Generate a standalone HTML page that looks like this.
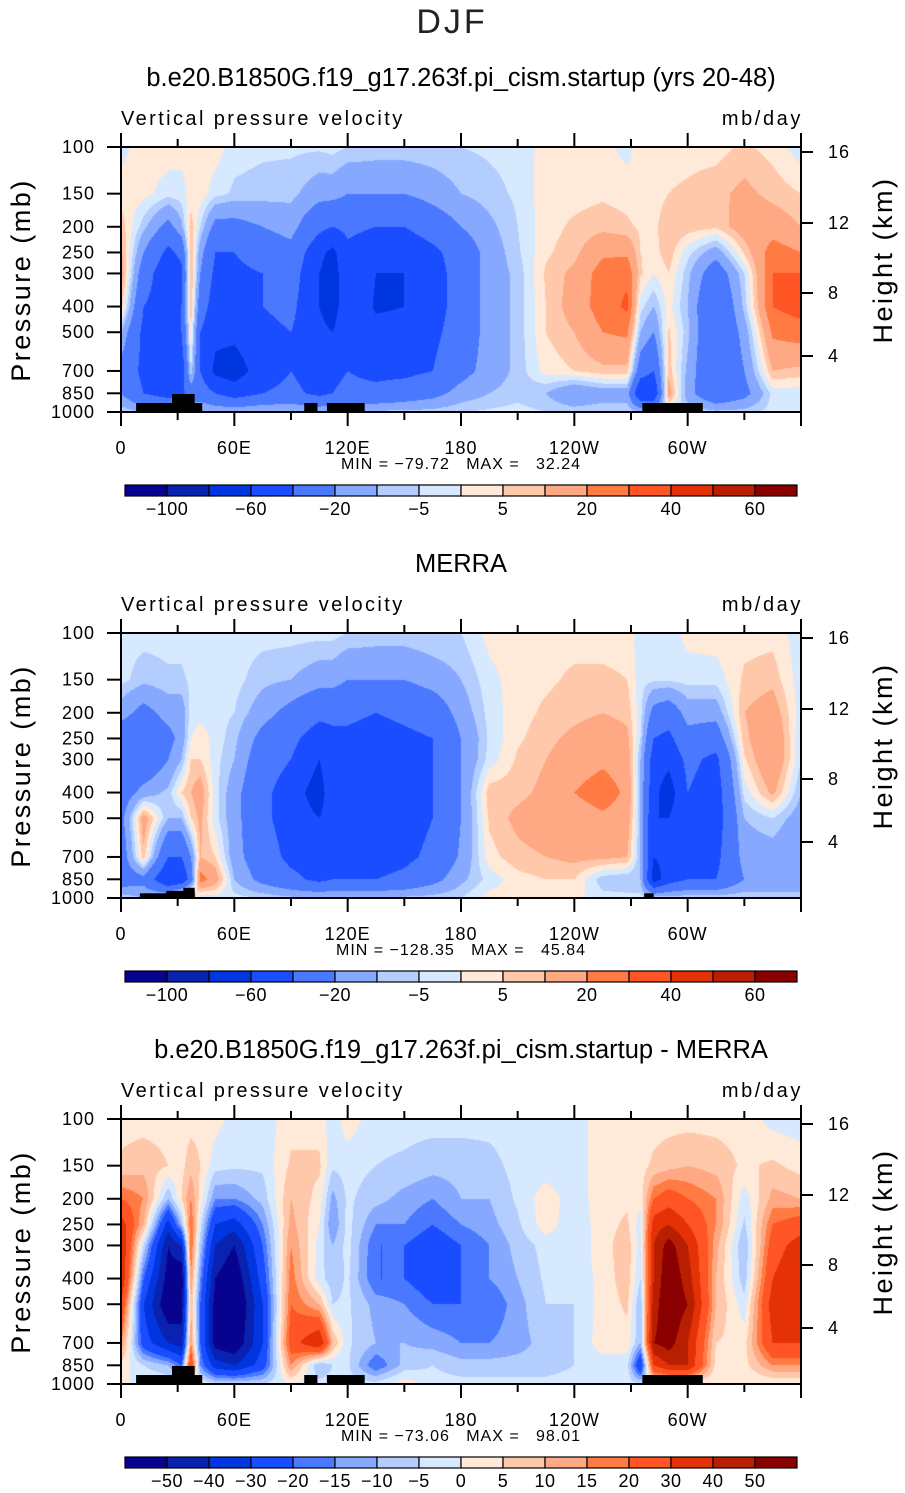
<!DOCTYPE html>
<html><head><meta charset="utf-8">
<style>
html,body{margin:0;padding:0;background:#fff;}
#wrap{position:relative;width:905px;height:1493px;overflow:hidden;font-family:"Liberation Sans",sans-serif;}
canvas{position:absolute;}
svg{position:absolute;left:0;top:0;}
</style></head>
<body>
<div id="wrap">
<canvas id="c0" width="680" height="265" style="left:121px;top:147px"></canvas>
<canvas id="c1" width="680" height="265" style="left:121px;top:633px"></canvas>
<canvas id="c2" width="680" height="265" style="left:121px;top:1119px"></canvas>
<svg id="svg" width="905" height="1493" xmlns="http://www.w3.org/2000/svg"></svg>
</div>
<script>
// ---- data ----
const LONS=[0,12,25,32,37,42,50,60,75,90,105,112,120,135,150,165,180,195,210,225,240,255,268,275,282,290,300,315,330,345,360];
const PLEVS=[100,150,200,250,300,400,500,700,850,1000];
const MODEL=[
[-2,3,8,12,15,8,-10,-25,-20,-5],
[3,2,-8,-20,-30,-40,-45,-45,-40,-10],
[3,-3,-25,-45,-55,-50,-45,-55,-50,-10],
[2,-2,-12,-35,-45,-40,-40,-55,-45,-10],
[2,2,8,10,12,10,5,-5,-30,-10],
[3,3,-5,-15,-20,-30,-40,-40,-30,-8],
[3,-3,-25,-40,-45,-50,-55,-65,-40,-10],
[-3,-6,-25,-40,-45,-50,-55,-70,-50,-10],
[-4,-7,-20,-30,-40,-40,-45,-50,-40,-8],
[-4,-8,-15,-25,-30,-35,-40,-40,-35,-8],
[-4,-15,-35,-55,-60,-60,-55,-50,-45,-10],
[-3,-15,-40,-65,-70,-70,-60,-45,-40,-8],
[-5,-20,-35,-45,-45,-45,-45,-40,-35,-8],
[-6,-20,-40,-55,-60,-62,-55,-45,-35,-8],
[-6,-20,-40,-55,-60,-60,-55,-45,-30,-8],
[-6,-15,-30,-45,-50,-50,-45,-40,-25,-7],
[-5,-10,-20,-30,-30,-30,-30,-25,-15,-5],
[-4,-7,-12,-15,-15,-15,-15,-15,-10,-4],
[-3,-4,-5,-6,-8,-8,-8,-8,-7,-3],
[2,3,3,4,6,5,5,2,-10,-5],
[2,3,6,8,12,14,10,5,-20,-6],
[2,4,8,18,25,25,20,8,-15,-5],
[-2,3,6,18,28,32,22,8,-15,-5],
[3,2,4,5,6,-3,-10,-30,-60,-10],
[3,2,3,3,0,-10,-20,-40,-60,-10],
[3,5,10,8,5,2,6,8,15,-5],
[3,6,8,-3,-8,-10,-8,-12,-15,-5],
[3,8,6,-15,-30,-40,-40,-40,-35,-8],
[6,12,15,6,-5,-8,-15,-20,-25,-7],
[3,8,15,25,30,30,22,10,-3,-3],
[-3,5,10,20,30,35,25,8,-3,-3]];
const MERRA=[
[-3,-3,-15,-30,-35,-30,-25,-30,-30,-5],
[-3,-8,-25,-35,-35,-15,15,8,-25,-10],
[-3,-6,-15,-25,-20,-8,-10,-40,-60,-5],
[-3,-6,-15,-15,-10,5,-10,-40,-60,20],
[-3,-4,-3,0,5,10,5,-20,-30,20],
[-3,-3,-2,3,5,15,12,10,25,-5],
[-3,-3,-3,-2,-3,-3,-3,5,15,-3],
[-3,-3,-5,-8,-10,-15,-15,-15,-10,-3],
[-3,-8,-15,-25,-30,-35,-35,-30,-25,-5],
[-3,-10,-25,-35,-40,-50,-50,-45,-35,-8],
[-3,-15,-35,-50,-60,-70,-60,-50,-45,-8],
[-3,-15,-35,-45,-45,-45,-50,-45,-40,-8],
[-5,-20,-35,-45,-45,-45,-60,-50,-40,-8],
[-6,-20,-40,-50,-55,-60,-60,-50,-40,-8],
[-6,-20,-35,-45,-45,-50,-50,-45,-35,-8],
[-5,-15,-30,-40,-40,-40,-40,-35,-25,-7],
[-5,-10,-15,-20,-20,-20,-20,-18,-12,-5],
[2,-2,-3,-4,-3,8,6,3,-3,2],
[3,3,3,4,6,8,12,8,3,2],
[3,4,6,8,10,12,15,10,5,2],
[3,6,8,12,15,20,15,12,5,2],
[3,6,10,15,18,25,18,12,-8,-3],
[3,5,8,12,15,18,15,10,-10,-3],
[-3,-3,-3,-5,-10,-10,-10,-10,-10,-3],
[-3,-4,-25,-40,-50,-55,-60,-60,-70,-5],
[-3,-4,-30,-45,-55,-70,-60,-55,-50,-5],
[2,-3,-15,-25,-35,-40,-45,-40,-40,-5],
[3,-3,-15,-30,-45,-50,-50,-45,-40,-5],
[3,6,10,8,4,-3,-10,-15,-20,-5],
[3,8,15,20,20,12,-5,-15,-20,-5],
[-3,-3,-3,-5,-5,-10,-15,-20,-20,-5]];
const DIFF=[
[3,6,20,35,40,40,30,15,3,0],
[3,8,15,10,-5,-20,-30,-25,-5,0],
[3,5,-10,-35,-50,-55,-60,-40,-10,0],
[3,3,5,-10,-40,-60,-55,-45,-20,0],
[3,8,15,20,20,15,10,15,30,0],
[3,5,3,-3,-8,-15,-20,-20,-15,0],
[2,-3,-15,-30,-40,-50,-55,-55,-35,-5],
[-2,-4,-15,-35,-50,-60,-65,-60,-40,-5],
[-3,-4,-8,-15,-20,-25,-30,-30,-25,-5],
[3,6,10,12,15,18,20,25,15,0],
[3,6,3,0,-2,-3,10,40,-10,-3],
[-3,-4,-12,-15,-10,-8,-5,10,-5,-3],
[3,-3,-4,-3,-3,-4,-4,-4,-4,-3],
[-3,-5,-8,-15,-20,-20,-12,-10,-20,-3],
[-3,-6,-12,-15,-20,-20,-15,-10,-8,3],
[-3,-8,-15,-20,-25,-25,-20,-12,-5,-3],
[-3,-8,-10,-15,-20,-20,-20,-15,-8,-3],
[-3,-7,-10,-12,-15,-15,-20,-15,-8,-3],
[-2,-3,-4,-6,-8,-10,-12,-12,-8,-3],
[-2,-3,3,3,-3,-4,-5,-8,-8,-3],
[-2,-3,-3,-4,-4,-4,-5,-5,-5,-2],
[2,3,3,3,3,2,2,3,-3,-2],
[2,3,4,6,8,8,6,3,-3,-2],
[3,3,2,-3,-3,-5,-10,-10,-30,-5],
[3,6,20,35,40,40,45,50,30,0],
[3,8,25,40,55,60,60,55,40,0],
[3,10,20,30,40,45,50,40,40,0],
[3,8,15,15,12,10,10,5,3,0],
[3,4,-3,-6,-10,-8,-3,3,3,0],
[-2,6,12,20,25,30,35,30,15,0],
[-3,3,10,25,35,40,40,30,15,0]];
const LEVELS_A=[-100,-80,-60,-40,-20,-10,-5,0,5,10,20,30,40,50,60];
const LEVELS_B=[-50,-40,-30,-20,-15,-10,-5,0,5,10,15,20,30,40,50];
const CBAR_LABELS_A=["","−100","","−60","","−20","","−5","","5","","20","","40","","60",""];
const CBAR_LABELS_B=["","−50","−40","−30","−20","−15","−10","−5","0","5","10","15","20","30","40","50",""];
const COLORS=["#08038f","#0a22b0","#0036e0","#1a4dff","#4a79ff","#86a9ff","#b4cdff","#d7e9fe","#ffe9d8","#ffc8ab","#ffa884","#ff7b43","#ff5424","#e43106","#b81e00","#8a0000"];
const P_TICKS=[100,150,200,250,300,400,500,700,850,1000];
const LON_LABELS=[[0,"0"],[60,"60E"],[120,"120E"],[180,"180"],[240,"120W"],[300,"60W"]];
const H_TICKS=[[16,5],[12,76],[8,146],[4,209]];
const TOPO_FULL=[[8,43,925],[27,39,855],[97,104,925],[109,129,925],[276,308,925]];
const TOPO_MERRA=[[10,39,960],[24,39,940],[33,39,915],[277,282,960]];
const STATS=[["−79.72","32.24"],["−128.35","45.84"],["−73.06","98.01"]];
const TITLES=["b.e20.B1850G.f19_g17.263f.pi_cism.startup (yrs 20-48)","MERRA","b.e20.B1850G.f19_g17.263f.pi_cism.startup - MERRA"];

// ---- geometry ----
const X0=121,W=680,H=265,TOPS=[147,633,1119];
const xOf=lon=>X0+lon/360*W;
const yOf=(p,top)=>top+(Math.log10(p)-2)*H;

function sample(grid,lon,p){
  let i=0;while(i<LONS.length-2&&lon>LONS[i+1])i++;
  const tx=(lon-LONS[i])/(LONS[i+1]-LONS[i]);
  const lp=Math.log10(p);
  let j=0;while(j<PLEVS.length-2&&lp>Math.log10(PLEVS[j+1]))j++;
  const a=Math.log10(PLEVS[j]),b=Math.log10(PLEVS[j+1]);
  const ty=Math.min(1,Math.max(0,(lp-a)/(b-a)));
  const v00=grid[i][j],v10=grid[i+1][j],v01=grid[i][j+1],v11=grid[i+1][j+1];
  return (v00*(1-tx)+v10*tx)*(1-ty)+(v01*(1-tx)+v11*tx)*ty;
}
function hex(c){return [parseInt(c.slice(1,3),16),parseInt(c.slice(3,5),16),parseInt(c.slice(5,7),16)];}
const RGB=COLORS.map(hex);
function drawField(id,grid,levels){
  const cv=document.getElementById(id),ctx=cv.getContext('2d');
  const img=ctx.createImageData(W,H);
  for(let py=0;py<H;py++){
    const p=Math.pow(10,2+(py+0.5)/H);
    for(let px=0;px<W;px++){
      const v=sample(grid,(px+0.5)/W*360,p);
      let k=0;while(k<levels.length&&v>=levels[k])k++;
      const c=RGB[k],o=(py*W+px)*4;
      img.data[o]=c[0];img.data[o+1]=c[1];img.data[o+2]=c[2];img.data[o+3]=255;
    }
  }
  ctx.putImageData(img,0,0);
}
drawField('c0',MODEL,LEVELS_A);
drawField('c1',MERRA,LEVELS_A);
drawField('c2',DIFF,LEVELS_B);

// ---- svg overlay ----
const svg=document.getElementById('svg'),NS="http://www.w3.org/2000/svg";
function el(tag,attrs,parent){const e=document.createElementNS(NS,tag);for(const k in attrs)e.setAttribute(k,attrs[k]);(parent||svg).appendChild(e);return e;}
function txt(s,x,y,size,anchor,parent,extra){const t=el('text',Object.assign({x:x,y:y,'font-size':size,'text-anchor':anchor||'middle','font-family':'Liberation Sans, sans-serif',fill:'#000'},extra||{}),parent);t.textContent=s;return t;}

const djf=txt("DJF",452,33,34,'middle',svg,{'letter-spacing':'3',fill:'#222'});



for(let n=0;n<3;n++){
  const top=TOPS[n],off=top-147;
  const g=el('g',{});
  
  
  const tt=txt(TITLES[n],461,off+86,25.5,'middle',g);
  
  
  const lt=txt("Vertical pressure velocity",121,off+125,20,'start',g,{'letter-spacing':'2.4'});
  
  
  const ut=txt("mb/day",803,off+125,20,'end',g,{'letter-spacing':'2.6'});
  
  
  // topography
  const topo=n==1?TOPO_MERRA:TOPO_FULL;
  topo.forEach(t=>{
    const r=el('rect',{x:xOf(t[0]),y:yOf(t[2],top),width:xOf(t[1])-xOf(t[0]),height:top+H-yOf(t[2],top),fill:'#000'},g);
    
    
  });
  // frame
  const fr=el('rect',{x:X0,y:top,width:W,height:H,fill:'none',stroke:'#000','stroke-width':2},g);
  
  
  // pressure ticks
  P_TICKS.forEach(p=>{
    const y=yOf(p,top);
    el('line',{x1:X0-14,x2:X0,y1:y,y2:y,stroke:'#000','stroke-width':2},g);
    const l=txt(String(p),95,y+6,18,'end',g,{'letter-spacing':'1'});
    
    
  });
  // lon ticks
  for(let lon=0;lon<=360;lon+=30){
    const x=xOf(lon),major=lon%60==0;
    el('line',{x1:x,x2:x,y1:top+H,y2:top+H+(major?14:8),stroke:'#000','stroke-width':2},g);
    el('line',{x1:x,x2:x,y1:top,y2:top-(major?14:8),stroke:'#000','stroke-width':2},g);
  }
  LON_LABELS.forEach(l=>{
    const t=txt(l[1],xOf(l[0]),top+H+42,18,'middle',g,{'letter-spacing':'1'});
    
    
  });
  // height ticks
  H_TICKS.forEach(h=>{
    const y=top+h[1];
    el('line',{x1:X0+W,x2:X0+W+12,y1:y,y2:y,stroke:'#000','stroke-width':2},g);
    const t=txt(String(h[0]),828,y+6,18,'start',g,{'letter-spacing':'1'});
    
    
  });
  const ya=txt("Pressure (mb)",0,0,27,'middle',g,{transform:`translate(30,${top+133}) rotate(-90)`,'letter-spacing':'2.5'});
  
  
  const yb=txt("Height (km)",0,0,27,'middle',g,{transform:`translate(892,${top+113}) rotate(-90)`,'letter-spacing':'2.5'});
  
  
  const st=txt(`MIN\u00a0=\u00a0${STATS[n][0]}\u00a0\u00a0\u00a0MAX\u00a0=\u00a0\u00a0\u00a0${STATS[n][1]}`,461,top+H+57,16,'middle',g,{'letter-spacing':'1'});
  
  
  // colorbar
  const cb=el('g',{},g);
  
  
  const cy=top+338;
  COLORS.forEach((c,k)=>{
    const r=el('rect',{x:125+42*k,y:cy,width:42,height:11,fill:c,stroke:'#000','stroke-width':1.2},cb);
    
    
  });
  const labs=n==2?CBAR_LABELS_B:CBAR_LABELS_A;
  labs.forEach((s,k)=>{
    if(!s)return;
    const t=txt(s,125+42*k,cy+30,18,'middle',cb,{'letter-spacing':'0.5'});
    
    
  });
}
</script>
</body></html>
